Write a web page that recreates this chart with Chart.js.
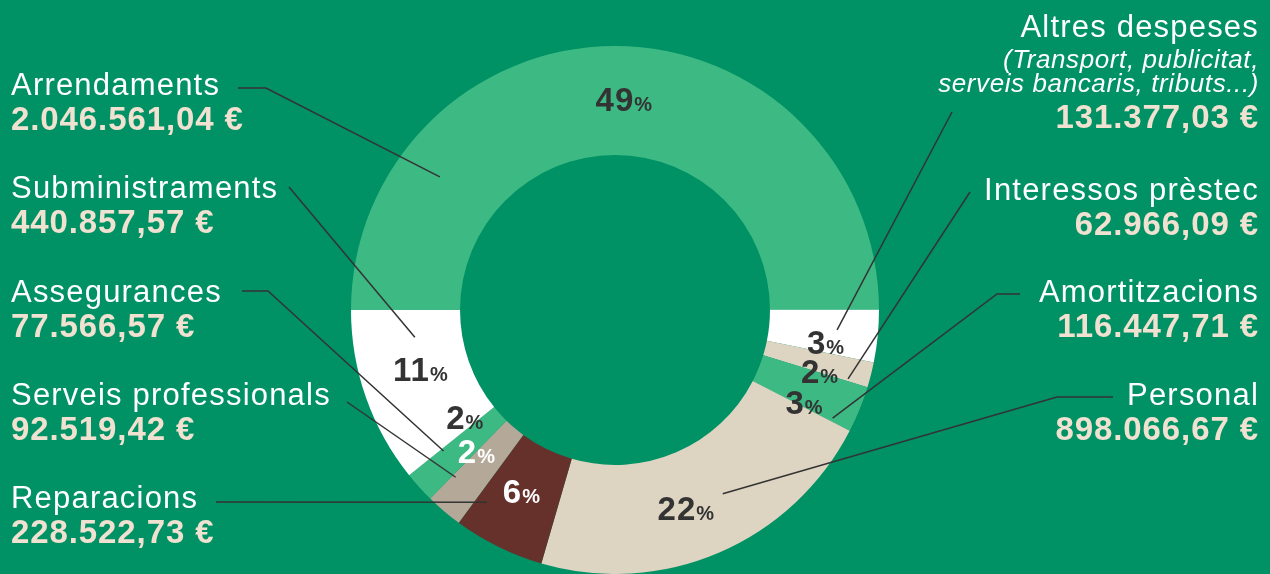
<!DOCTYPE html>
<html><head><meta charset="utf-8">
<script src="https://cdn.jsdelivr.net/npm/chart.js@4/dist/chart.umd.min.js"></script>
<style>html,body{margin:0;padding:0;background:#009164;overflow:hidden}#wrap{width:1270px;height:574px;position:relative}canvas{display:block}</style>
</head><body><div id="wrap"><canvas id="c" width="1270" height="574"></canvas></div>
<script>
// ---- data ----
const categories = ['Arrendaments','Altres despeses','Interessos prèstec','Amortitzacions','Personal','Reparacions','Serveis professionals','Assegurances','Subministraments'];
const amounts = [2046561.04, 131377.03, 62966.09, 116447.71, 898066.67, 228522.73, 92519.42, 77566.57, 440857.57];
const percentLabels = ['49','3','2','3','22','6','2','2','11'];
const altresNote = ['(Transport, publicitat,', 'serveis bancaris, tributs...)'];

// ---- styles / layout ----
const sliceColors = ['#3db984','#ffffff','#ddd4c1','#3db984','#ddd4c1','#66312a','#b4a998','#3db984','#ffffff'];
const pctColors = ['#333','#333','#333','#333','#333','#fff','#fff','#333','#333'];
const pctOffsets = [[9,-1],[2,12],[1.5,10],[-5,14],[-12,6],[-1,-6],[-3,-18],[5,-33],[3,-10]];
const layout = {
  0:{side:'L', y:95},
  8:{side:'L', y:198},
  7:{side:'L', y:302},
  6:{side:'L', y:405},
  5:{side:'L', y:508},
  1:{side:'R', y:37, note:true, vy:128},
  2:{side:'R', y:200},
  3:{side:'R', y:302},
  4:{side:'R', y:405}
};
const leaders = {
  0:{pts:[[238,88],[266,88]], f:0.207, r:220},
  8:{pts:[[289,187]], f:0.80, r:202},
  7:{pts:[[242,291],[268,291]], f:0.9, r:222},
  6:{pts:[[347,402]], f:0.9, r:231},
  5:{pts:[[216,502]], f:0.87, r:231},
  1:{pts:[[952,112]], f:0.45, r:223},
  2:{pts:[[970,192]], f:0.9, r:243},
  3:{pts:[[1020,294],[997,294]], f:0.92, r:243},
  4:{pts:[[1113,397],[1057,397]], f:0.41, r:213}
};

function fmtEuro(v){
  const parts = v.toFixed(2).split('.');
  const int = parts[0].replace(/\B(?=(\d{3})+(?!\d))/g, '.');
  return int + ',' + parts[1] + ' €';
}

const FONT = '"Liberation Sans", Arial, sans-serif';

const labelPlugin = {
  id:'labels',
  afterDraw(chart){
    const ctx = chart.ctx;
    const meta = chart.getDatasetMeta(0);
    ctx.save();
    // leader lines
    ctx.strokeStyle = '#333333';
    ctx.lineWidth = 1.5;
    meta.data.forEach((arc,i)=>{
      const L = leaders[i]; if(!L) return;
      const p = arc.getProps(['x','y','startAngle','endAngle'], true);
      const a = p.startAngle + L.f*(p.endAngle - p.startAngle);
      const ex = p.x + L.r*Math.cos(a), ey = p.y + L.r*Math.sin(a);
      ctx.beginPath();
      ctx.moveTo(L.pts[0][0], L.pts[0][1]);
      for(let k=1;k<L.pts.length;k++) ctx.lineTo(L.pts[k][0], L.pts[k][1]);
      ctx.lineTo(ex, ey);
      ctx.stroke();
    });
    // percent labels
    meta.data.forEach((arc,i)=>{
      const p = arc.getProps(['x','y','startAngle','endAngle','innerRadius','outerRadius'], true);
      const a = (p.startAngle + p.endAngle)/2;
      const r = (p.innerRadius + p.outerRadius)/2;
      const cx = p.x + r*Math.cos(a) + pctOffsets[i][0];
      const cy = p.y + r*Math.sin(a) + pctOffsets[i][1];
      ctx.fillStyle = pctColors[i];
      ctx.textBaseline = 'alphabetic';
      ctx.textAlign = 'left';
      ctx.letterSpacing = '1px';
      ctx.font = 'bold 33px ' + FONT;
      const w1 = ctx.measureText(percentLabels[i]).width;
      ctx.letterSpacing = '0px';
      ctx.font = 'bold 20px ' + FONT;
      const w2 = ctx.measureText('%').width;
      const x0 = cx - (w1+w2)/2;
      const base = cy + 11.5;
      ctx.letterSpacing = '1px';
      ctx.font = 'bold 33px ' + FONT;
      ctx.fillText(percentLabels[i], x0, base);
      ctx.letterSpacing = '0px';
      ctx.font = 'bold 20px ' + FONT;
      ctx.fillText('%', x0 + w1, base);
    });
    // category labels
    Object.keys(layout).forEach(k=>{
      const i = +k, L = layout[i];
      const x = L.side === 'L' ? 11 : 1259;
      ctx.textAlign = L.side === 'L' ? 'left' : 'right';
      ctx.letterSpacing = '1.2px';
      ctx.fillStyle = '#ffffff';
      ctx.font = '31px ' + FONT;
      ctx.fillText(categories[i], x, L.y);
      let vy = L.y + 35;
      if (L.note){
        ctx.letterSpacing = '0.6px';
        ctx.font = 'italic 26px ' + FONT;
        ctx.fillText(altresNote[0], x, 68);
        ctx.fillText(altresNote[1], x, 92);
        vy = L.vy;
      }
      ctx.letterSpacing = '0.9px';
      ctx.fillStyle = '#f0e1d0';
      ctx.font = 'bold 33px ' + FONT;
      ctx.fillText(fmtEuro(amounts[i]), x, vy);
    });
    ctx.restore();
  }
};

new Chart(document.getElementById('c').getContext('2d'), {
  type:'doughnut',
  data:{
    labels: categories,
    datasets:[{ data: amounts, backgroundColor: sliceColors, borderWidth:0, hoverOffset:0, offset:0 }]
  },
  options:{
    responsive:false,
    animation:false,
    rotation:270,
    cutout:'58.7%',
    layout:{ padding:{ left:351, right:391, top:46, bottom:0 } },
    plugins:{ legend:{display:false}, tooltip:{enabled:false} },
    events:[]
  },
  plugins:[labelPlugin]
});
</script>
</body></html>
